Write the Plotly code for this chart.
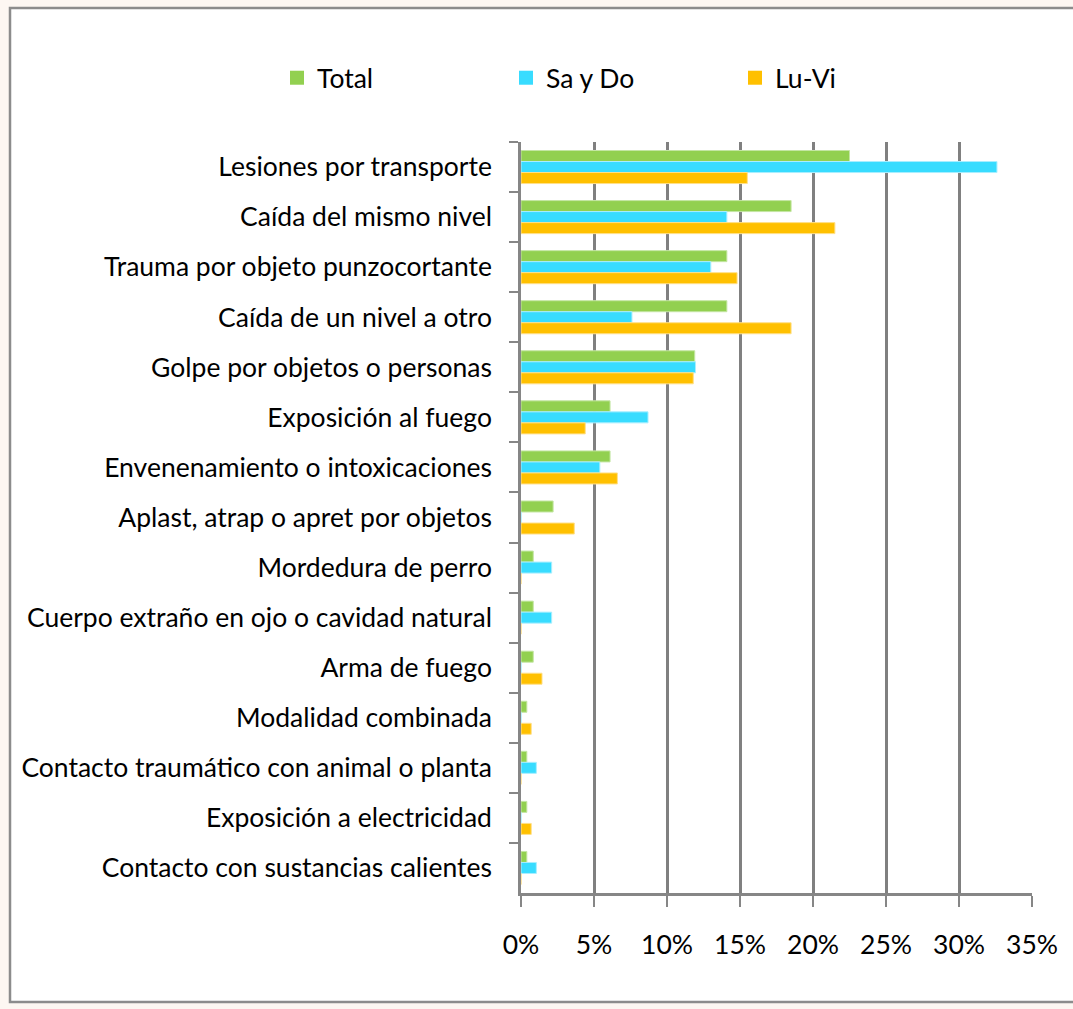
import plotly.graph_objects as go

# categorias (de arriba a abajo) y porcentajes
categorias = [
    "Lesiones por transporte",
    "Caída del mismo nivel",
    "Trauma por objeto punzocortante",
    "Caída de un nivel a otro",
    "Golpe por objetos o personas",
    "Exposición al fuego",
    "Envenenamiento o intoxicaciones",
    "Aplast, atrap o apret por objetos",
    "Mordedura de perro",
    "Cuerpo extraño en ojo o cavidad natural",
    "Arma de fuego",
    "Modalidad combinada",
    "Contacto traumático con animal o planta",
    "Exposición a electricidad",
    "Contacto con sustancias calientes",
]
total = [22.5, 18.5, 14.1, 14.1, 11.9, 6.1, 6.1, 2.2, 0.84, 0.84, 0.84, 0.4, 0.4, 0.4, 0.4]
sa_do = [32.6, 14.1, 13.0, 7.6, 11.95, 8.7, 5.4, 0, 2.1, 2.1, 0, 0, 1.05, 0, 1.05]
lu_vi = [15.5, 21.5, 14.8, 18.5, 11.8, 4.4, 6.6, 3.65, 0, 0, 1.44, 0.7, 0, 0.7, 0]

series = [
    ("Total", total, "#92d050", "#c4e6a3"),
    ("Sa y Do", sa_do, "#38dcff", "#a8eeff"),
    ("Lu-Vi", lu_vi, "#ffc000", "#ffe08a"),
]

FONT = "Liberation Sans Narrow, Lato, sans-serif"
W, H = 1073, 1009
L, R, T, B = 521, 41, 142, 116
pw, ph = W - L - R, H - T - B

fig = go.Figure()
for nombre, vals, color, borde in series:
    fig.add_trace(go.Bar(
        y=categorias, x=[v / 100 for v in vals], name=nombre, orientation="h",
        marker=dict(color=color, line=dict(color=borde, width=1)),
        showlegend=False,
    ))
# entradas de leyenda con cuadrados mas grandes
for nombre, vals, color, borde in series:
    fig.add_trace(go.Scatter(
        x=[None], y=[None], mode="markers", name=nombre,
        marker=dict(symbol="square", size=14, color=color),
    ))

# marco blanco con borde gris
fig.add_shape(
    type="rect", xref="paper", yref="paper", layer="below",
    x0=(10 - L) / pw, x1=(1090 - L) / pw,
    y0=(H - B - 1002) / ph, y1=(H - B - 8) / ph,
    fillcolor="white", line=dict(color="#8c8c8c", width=2.5),
)

fig.update_layout(
    width=W, height=H,
    margin=dict(l=L, r=R, t=T, b=B),
    paper_bgcolor="#fdf7f2", plot_bgcolor="#f2f2f2",
    font=dict(family=FONT, size=26.5, color="black"),
    barmode="group", bargap=0.34, bargroupgap=0,
    showlegend=True,
    legend=dict(
        orientation="h", x=(277 - L) / pw, xanchor="left",
        y=(H - B - 78) / ph, yanchor="middle",
        entrywidth=184, entrywidthmode="pixels", bgcolor="rgba(0,0,0,0)",
        font=dict(family=FONT, size=26.5),
    ),
    xaxis=dict(
        range=[0, 0.35], dtick=0.05, tickformat=".0%",
        showgrid=True, gridcolor="#808080", gridwidth=2.5,
        showline=True, linecolor="#868686", linewidth=2.5,
        ticks="outside", ticklen=11, tickwidth=2, tickcolor="#868686",
        ticklabelstandoff=15, zeroline=False, fixedrange=True, automargin=False,
    ),
    yaxis=dict(
        autorange="reversed", tickson="boundaries",
        showline=True, linecolor="#868686", linewidth=2.5,
        ticks="outside", ticklen=9, tickwidth=2, tickcolor="#868686",
        ticklabelstandoff=21, showgrid=False, fixedrange=True, automargin=False,
    ),
)

fig.write_html("out.html", config={"displayModeBar": False},
               post_script="document.body.style.margin='0';")
